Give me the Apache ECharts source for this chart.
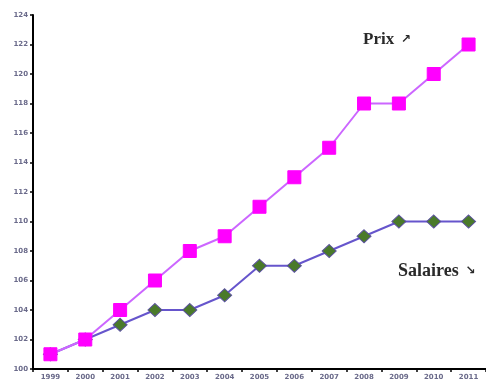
<!DOCTYPE html>
<html>
<head>
<meta charset="utf-8">
<script src="https://cdn.jsdelivr.net/npm/echarts@6/dist/echarts.min.js"></script>
<style>
  html, body { margin: 0; padding: 0; background: #fff; }
  #chart { width: 486px; height: 383px; }
</style>
</head>
<body>
<div id="chart"></div>
<script>
// Years on the horizontal axis
const years = ['1999', '2000', '2001', '2002', '2003', '2004', '2005', '2006', '2007', '2008', '2009', '2010', '2011'];
// Price index
const prix = [101, 102, 104, 106, 108, 109, 111, 113, 115, 118, 118, 120, 122];
// Wage index
const salaires = [101, 102, 103, 104, 104, 105, 107, 107, 108, 109, 110, 110, 110];
// Series captions and trend arrows
const prixLabel = 'Prix';
const salairesLabel = 'Salaires';
const arrowUp = '\u2197';
const arrowDown = '\u2198';

const chart = echarts.init(document.getElementById('chart'));

function caption(name, arrow, size) {
  return {
    text: '{t|' + name + '}  {a|' + arrow + '}',
    rich: {
      t: { font: 'bold ' + size + 'px "Liberation Serif"', fill: '#2a2a2a' },
      a: { font: 'bold 12px "DejaVu Sans"', fill: '#2a2a2a' }
    },
    verticalAlign: 'middle'
  };
}

chart.setOption({
  animation: false,
  backgroundColor: '#ffffff',
  grid: { left: 33, right: 0, top: 15, bottom: 14, containLabel: false },
  xAxis: {
    type: 'category',
    data: years,
    boundaryGap: true,
    axisLine: { lineStyle: { color: '#000', width: 2 } },
    axisTick: { show: true, length: 3, lineStyle: { color: '#000', width: 1.5 } },
    axisLabel: { fontSize: 7, color: '#6a6a8a', margin: 5, fontFamily: 'DejaVu Sans', fontWeight: 'bold' },
    splitLine: { show: false }
  },
  yAxis: {
    type: 'value',
    min: 100,
    max: 124,
    interval: 2,
    axisLine: { show: true, lineStyle: { color: '#000', width: 2 } },
    axisTick: { show: true, length: 3, lineStyle: { color: '#000', width: 1.5 } },
    axisLabel: { fontSize: 7, color: '#6a6a8a', margin: 5, fontFamily: 'DejaVu Sans', fontWeight: 'bold' },
    splitLine: { show: false }
  },
  series: [
    {
      name: 'Salaires',
      type: 'line',
      data: salaires,
      symbol: 'diamond',
      symbolSize: [14, 13],
      lineStyle: { color: '#6655cc', width: 2 },
      itemStyle: { color: '#4a7a2a', borderColor: '#5a4fa0', borderWidth: 1 },
      z: 2
    },
    {
      name: 'Prix',
      type: 'line',
      data: prix,
      symbol: 'rect',
      symbolSize: 13,
      lineStyle: { color: '#cc66ff', width: 2 },
      itemStyle: { color: '#ff00ff', borderColor: '#ff00ff', borderWidth: 1 },
      z: 3
    }
  ],
  graphic: [
    {
      type: 'text',
      x: 363,
      y: 40,
      style: caption(prixLabel, arrowUp, 17)
    },
    {
      type: 'text',
      x: 398,
      y: 271,
      style: caption(salairesLabel, arrowDown, 18)
    }
  ]
});
</script>
</body>
</html>
